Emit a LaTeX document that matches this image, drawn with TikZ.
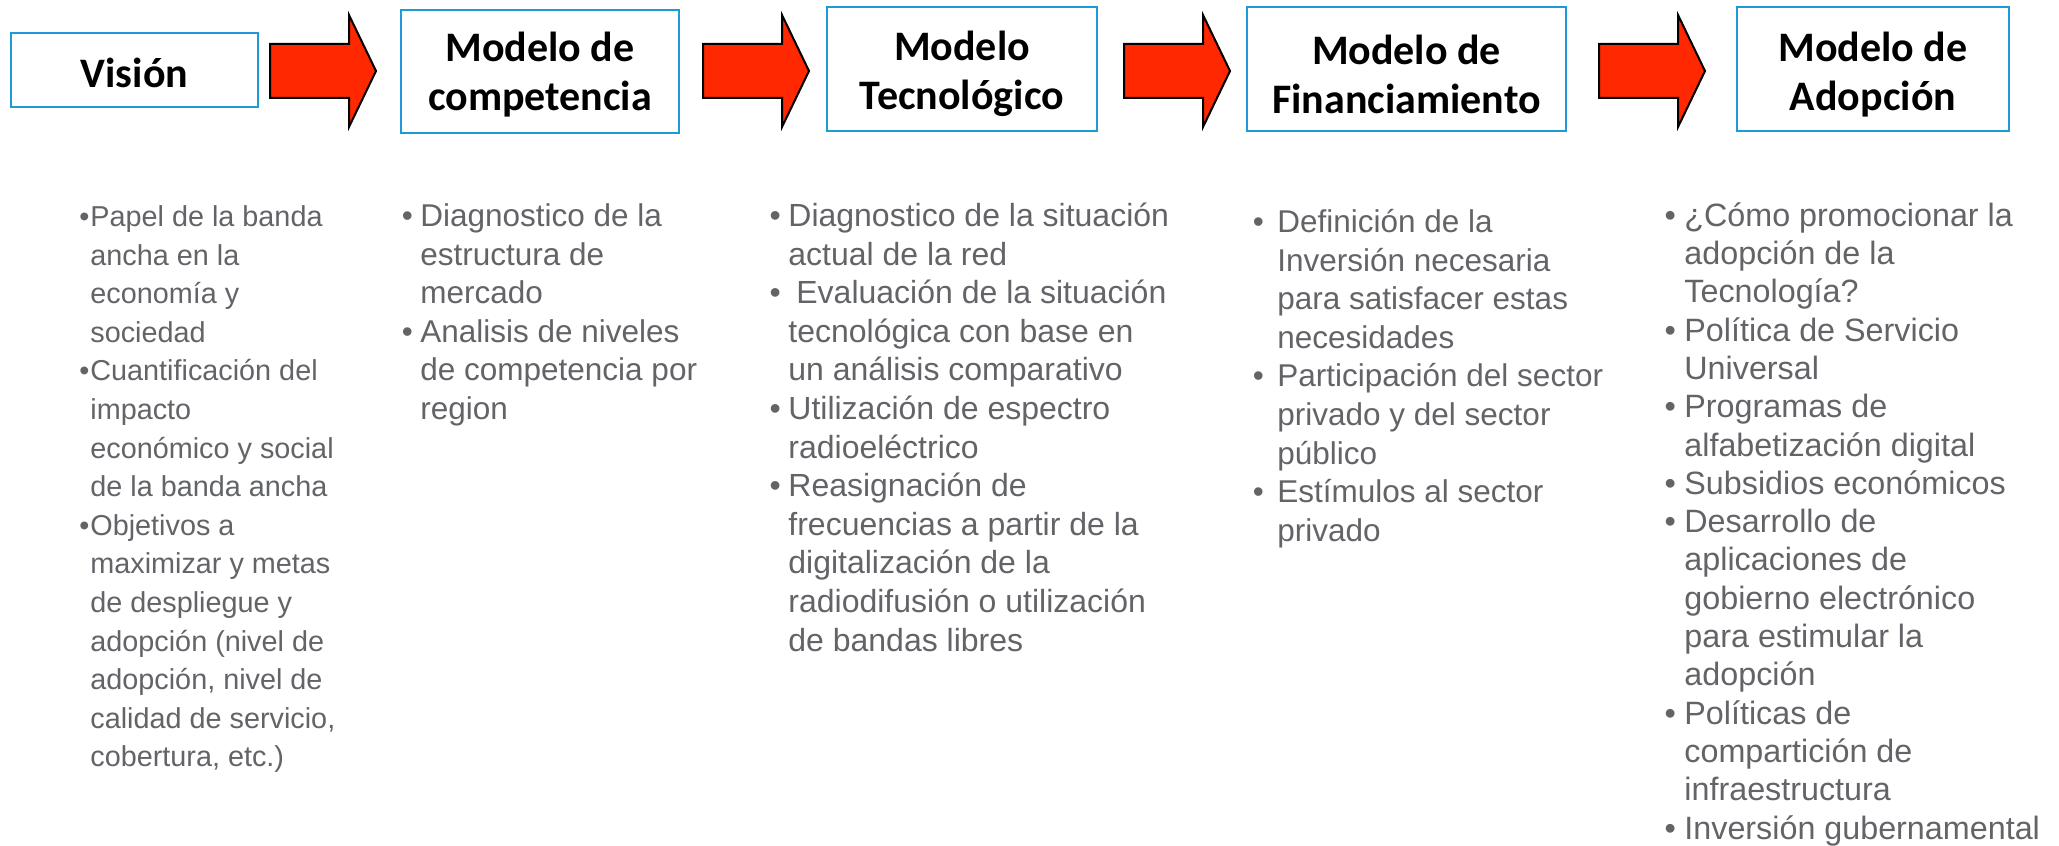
\documentclass[tikz,border=0pt]{standalone}
\usepackage{fontspec}
\setmainfont{Liberation Sans}
\newfontfamily\titlefont{Carlito}
\definecolor{boxblue}{RGB}{30,155,215}
\definecolor{arrowred}{RGB}{255,40,0}
\definecolor{txtgray}{RGB}{98,100,104}
\newcommand\bul[1]{\llap{\textbullet\hspace{#1}}}
\tikzset{
  tbox/.style={draw=boxblue, line width=1pt, fill=white, inner sep=0pt},
  ttext/.style={inner sep=0pt, align=center,
    font=\titlefont\bfseries\fontsize{21}{24.8}\selectfont},
  body/.style={anchor=north west, inner sep=0pt, align=left, text=txtgray},
  arrowfill/.style={fill=arrowred, draw=black, line width=1pt, line join=miter},
  blockarr/.pic={\path[arrowfill] (0,-27) -- (79,-27) -- (79,-56) -- (106,0) -- (79,56) -- (79,27) -- (0,27) -- cycle;}
}
\begin{document}
\begin{tikzpicture}[x=0.5pt,y=-0.5pt]
\useasboundingbox[fill=white] (0,0) rectangle (2059,845);

% title boxes
\node[tbox, minimum width=123.5pt, minimum height=37pt] (vis) at (134.5,70) {};
\node[tbox, minimum width=139pt, minimum height=61.5pt] (comp) at (540,71.5) {};
\node[tbox, minimum width=135pt, minimum height=62pt] (tec) at (962,69) {};
\node[tbox, minimum width=159.5pt, minimum height=62pt] (fin) at (1406.5,69) {};
\node[tbox, minimum width=136pt, minimum height=62pt] (ado) at (1873,69) {};
\node[ttext] (visT) at ([yshift=-1.3pt]vis.center) {Visión};
\node[ttext] (compT) at ([yshift=-1.5pt]comp.center) {Modelo de\\competencia};
\node[ttext] (tecT) at ([yshift=-2.5pt]tec.center) {Modelo\\Tecnológico};
\node[ttext] (finT) at ([yshift=-2.75pt]fin.center) {Modelo de\\Financiamiento};
\node[ttext] (adoT) at ([yshift=-2.75pt]ado.center) {Modelo de\\Adopción};

% block arrows
\pic (a1) at (270,71) {blockarr};
\pic (a2) at (703,71) {blockarr};
\pic (a3) at (1124,71) {blockarr};
\pic (a4) at (1599,71) {blockarr};

% column texts
\node[body, font=\fontsize{14.4}{19.3}\selectfont] (c1) at (90,199) {%
\strut\bul{0.5pt}Papel de la banda\\
ancha en la\\
economía y\\
sociedad\\
\bul{0.5pt}Cuantificación del\\
impacto\\
económico y social\\
de la banda ancha\\
\bul{0.5pt}Objetivos a\\
maximizar y metas\\
de despliegue y\\
adopción (nivel de\\
adopción, nivel de\\
calidad de servicio,\\
cobertura, etc.)};

\node[body, font=\fontsize{15.75}{19.3}\selectfont] (c2) at (420,199) {%
\strut\bul{3.75pt}Diagnostico de la\\
estructura de\\
mercado\\
\bul{3.75pt}Analisis de niveles\\
de competencia por\\
region};

\node[body, font=\fontsize{16}{19.3}\selectfont] (c3) at (788,199) {%
\strut\bul{3.75pt}Diagnostico de la situación\\
actual de la red\\
\bul{3.75pt}\hspace{4pt}Evaluación de la situación\\
tecnológica con base en\\
un análisis comparativo\\
\bul{3.75pt}Utilización de espectro\\
radioeléctrico\\
\bul{3.75pt}Reasignación de\\
frecuencias a partir de la\\
digitalización de la\\
radiodifusión o utilización\\
de bandas libres};

\node[body, font=\fontsize{15.75}{19.3}\selectfont] (c4) at (1277,205) {%
\strut\bul{6.75pt}Definición de la\\
Inversión necesaria\\
para satisfacer estas\\
necesidades\\
\bul{6.75pt}Participación del sector\\
privado y del sector\\
público\\
\bul{6.75pt}Estímulos al sector\\
privado};

\node[body, font=\fontsize{16.15}{19.15}\selectfont] (c5) at (1684,199) {%
\strut\bul{4.25pt}¿Cómo promocionar la\\
adopción de la\\
Tecnología?\\
\bul{4.25pt}Política de Servicio\\
Universal\\
\bul{4.25pt}Programas de\\
alfabetización digital\\
\bul{4.25pt}Subsidios económicos\\
\bul{4.25pt}Desarrollo de\\
aplicaciones de\\
gobierno electrónico\\
para estimular la\\
adopción\\
\bul{4.25pt}Políticas de\\
compartición de\\
infraestructura\\
\bul{4.25pt}Inversión gubernamental};
\end{tikzpicture}
\end{document}
